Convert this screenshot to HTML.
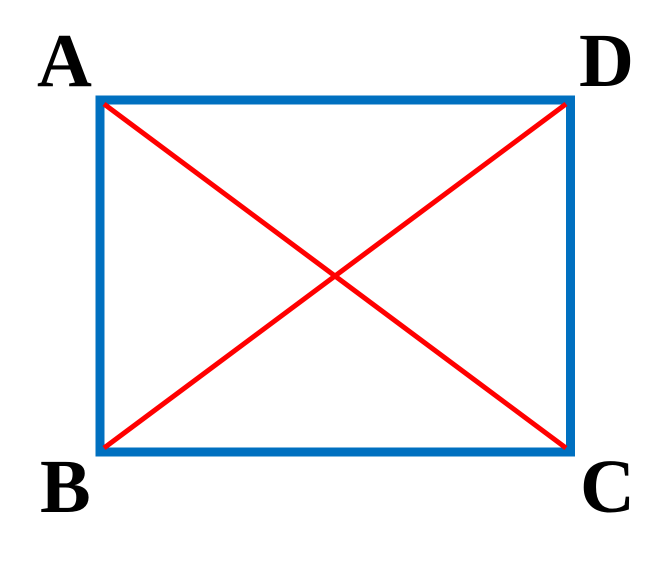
<!DOCTYPE html>
<html><head><meta charset="utf-8"><style>
html,body{margin:0;padding:0;background:#fff;}
svg{display:block}
text{font-family:"Liberation Serif",serif;font-weight:bold;font-size:76px;fill:#000}
</style></head><body>
<svg width="672" height="566" viewBox="0 0 672 566">
<rect x="100" y="100" width="470.5" height="352" fill="none" stroke="#0070C0" stroke-width="9"/>
<line x1="104" y1="104" x2="566" y2="448" stroke="#FF0000" stroke-width="5"/>
<line x1="104" y1="448" x2="566" y2="104" stroke="#FF0000" stroke-width="5"/>
<text x="37" y="86">A</text>
<text x="579" y="86">D</text>
<text x="40" y="512">B</text>
<text x="580" y="512">C</text>
</svg>
</body></html>
